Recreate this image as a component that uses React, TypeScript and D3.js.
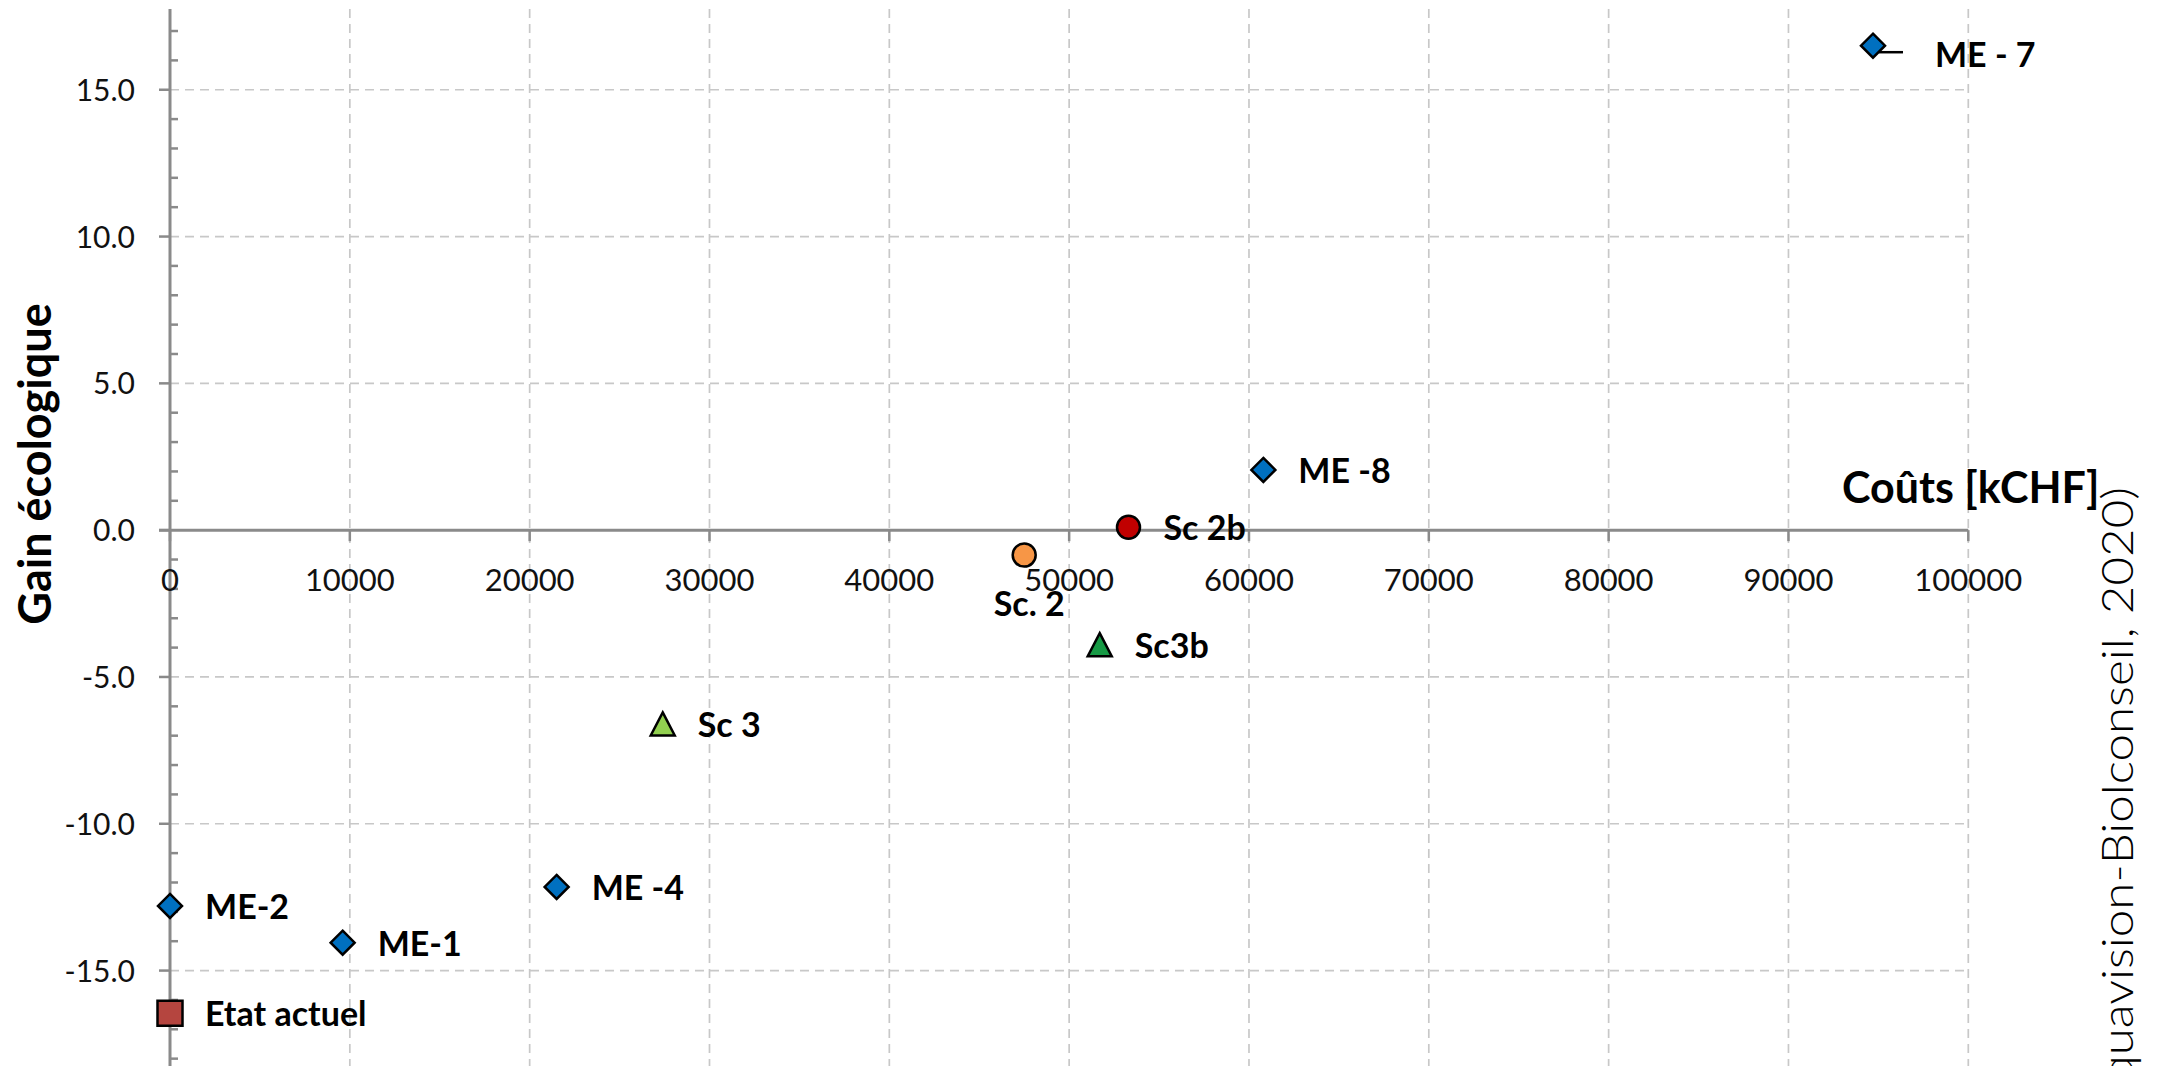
import React from 'react';
import * as d3 from 'd3';

// scenarios: cost in kCHF vs ecological gain
const labels = ['Etat actuel', 'ME-2', 'ME-1', 'ME -4', 'Sc 3', 'Sc. 2', 'Sc3b', 'Sc 2b', 'ME -8', 'ME - 7'];
const costs = [0, 0, 9600, 21500, 27400, 47500, 51700, 53300, 60800, 94700];
const gains = [-16.45, -12.8, -14.05, -12.15, -6.6, -0.85, -3.9, 0.1, 2.05, 16.5];
const shapes = ['square', 'diamond', 'diamond', 'diamond', 'triangle', 'circle', 'triangle', 'circle', 'diamond', 'diamond'];
const fills = ['#B5453F', '#0070C0', '#0070C0', '#0070C0', '#92D050', '#F79646', '#179A45', '#C00000', '#0070C0', '#0070C0'];
const labelPlacement = ['right', 'right', 'right', 'right', 'right', 'below', 'right', 'right', 'right', 'leader'];

const xTicks = [0, 10000, 20000, 30000, 40000, 50000, 60000, 70000, 80000, 90000, 100000];
const yTicks = [-15, -10, -5, 0, 5, 10, 15];

const xTitle = 'Coûts [kCHF]';
const yTitle = 'Gain écologique';
const source = '(Aquavision-Biolconseil, 2020)';

const W = 2172;
const H = 1066;
const FONT = 'Lato, "Open Sans", sans-serif';

// plain hyphen for negatives, like the original
const fmtY = d3.formatLocale({ decimal: '.', thousands: '', grouping: [3], currency: ['', ''], minus: '-' }).format('.1f');

const markerPath = (shape: string) => {
  if (shape === 'square') return 'M-12.5,-12.5H12.5V12.5H-12.5Z';
  if (shape === 'diamond') return 'M0,-12L12,0L0,12L-12,0Z';
  if (shape === 'triangle') return 'M0,-11.5L12,11.5L-12,11.5Z';
  return d3.symbol(d3.symbolCircle, Math.PI * 11.5 * 11.5)() as string;
};

const App: React.FC = () => {
  const x = d3.scaleLinear().domain([0, 100000]).range([170, 1968.3]);
  const y = d3.scaleLinear().domain([-18.25, 17.75]).range([H, 9]);
  const y0 = y(0);
  const minor = d3.range(-18, 18).filter(v => v % 5 !== 0);
  const grid = '#C8C8C8';
  const axis = '#8A8A8A';

  return (
    <svg width={W} height={H} style={{ position: 'absolute', left: 0, top: 0, background: '#fff' }}>
      {/* grid */}
      {xTicks.filter(t => t > 0).map(t => (
        <line key={'gx' + t} x1={x(t)} x2={x(t)} y1={9} y2={H} stroke={grid} strokeWidth={1.7} strokeDasharray="9 6" />
      ))}
      {yTicks.filter(t => t !== 0).map(t => (
        <line key={'gy' + t} x1={x(0)} x2={x(100000)} y1={y(t)} y2={y(t)} stroke={grid} strokeWidth={1.7} strokeDasharray="9 6" />
      ))}

      {/* y axis */}
      <line x1={x(0)} x2={x(0)} y1={9} y2={H} stroke={axis} strokeWidth={3} />
      {minor.map(v => (
        <line key={'my' + v} x1={x(0)} x2={x(0) + 8} y1={y(v)} y2={y(v)} stroke={axis} strokeWidth={2.5} />
      ))}
      {yTicks.map(t => (
        <g key={'ty' + t}>
          <line x1={x(0) - 11} x2={x(0)} y1={y(t)} y2={y(t)} stroke={axis} strokeWidth={2.5} />
          <text x={135} y={y(t) + 11} textAnchor="end" fontFamily={FONT} fontSize={30} fill="#111">
            {fmtY(t)}
          </text>
        </g>
      ))}

      {/* x axis */}
      <line x1={x(0) - 11} x2={x(100000)} y1={y0} y2={y0} stroke={axis} strokeWidth={3} />
      {xTicks.map(t => (
        <g key={'tx' + t}>
          <line x1={x(t)} x2={x(t)} y1={y0} y2={y0 + 11} stroke={axis} strokeWidth={2.5} />
          <text x={x(t)} y={591} textAnchor="middle" fontFamily={FONT} fontSize={31} fill="#111">
            {t}
          </text>
        </g>
      ))}

      {/* titles */}
      <text transform={`translate(51,464) rotate(-90)`} textAnchor="middle" fontFamily={FONT} fontWeight={700} fontSize={45} fill="#000">
        {yTitle}
      </text>
      <text x={1842} y={503} fontFamily={FONT} fontWeight={700} fontSize={43} fill="#000">
        {xTitle}
      </text>

      {/* points */}
      {labels.map((lab, i) => {
        const cx = x(costs[i]);
        const cy = y(gains[i]);
        const place = labelPlacement[i];
        return (
          <g key={lab}>
            {place === 'leader' && (
              <path d={`M${cx + 6},${cy + 6.5}H${cx + 30}`} stroke="#000" strokeWidth={2.5} fill="none" />
            )}
            <path d={markerPath(shapes[i])} transform={`translate(${cx},${cy})`} fill={fills[i]} stroke="#000" strokeWidth={2.5} strokeLinejoin="miter" />
            {place === 'right' && (
              <text x={cx + 35} y={cy + 13} fontFamily={FONT} fontWeight={700} fontSize={34} fill="#000">{lab}</text>
            )}
            {place === 'below' && (
              <text x={cx + 5} y={cy + 61} textAnchor="middle" fontFamily={FONT} fontWeight={700} fontSize={34} fill="#000">{lab}</text>
            )}
            {place === 'leader' && (
              <text x={cx + 62} y={cy + 21} fontFamily={FONT} fontWeight={700} fontSize={34} fill="#000">{lab}</text>
            )}
          </g>
        );
      })}

      {/* source, cut at the bottom edge */}
      <text transform={`translate(2133,487) rotate(-90)`} textAnchor="end" fontFamily={FONT} fontWeight={300} fontSize={44}
        textLength={640} lengthAdjust="spacingAndGlyphs" fill="#000">
        {source}
      </text>
    </svg>
  );
};

export default App;
